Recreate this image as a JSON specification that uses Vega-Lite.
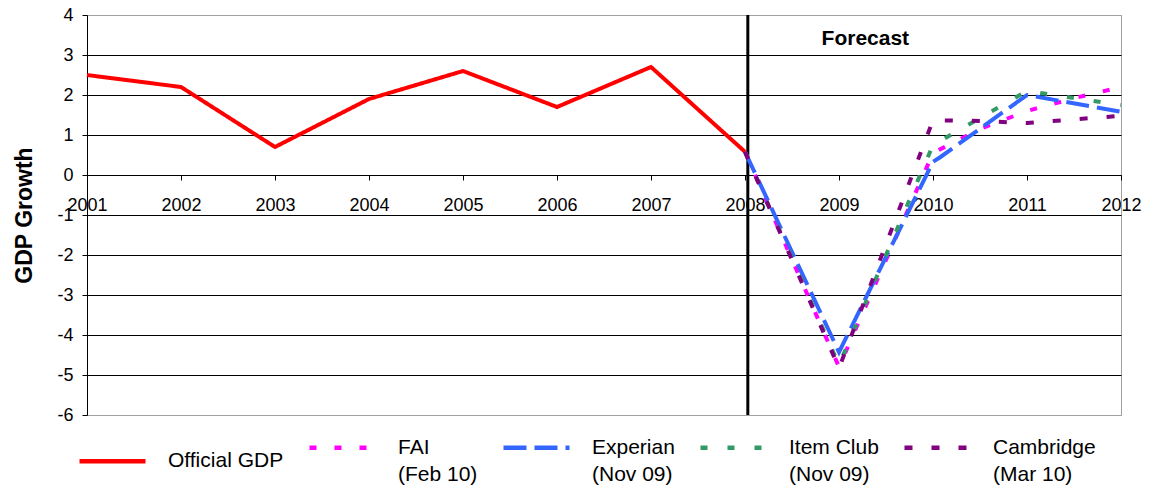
{
  "$schema": "https://vega.github.io/schema/vega-lite/v6.json",
  "width": 1034,
  "height": 400,
  "autosize": "none",
  "padding": {"left": 87, "top": 15, "right": 37, "bottom": 73},
  "background": "white",
  "config": {
    "font": "Liberation Sans",
    "view": {"stroke": "#a0a0a0", "strokeWidth": 1},
    "axis": {
      "labelFont": "Liberation Sans",
      "titleFont": "Liberation Sans",
      "labelColor": "#000000",
      "titleColor": "#000000",
      "domainColor": "#000000",
      "tickColor": "#000000",
      "domainWidth": 1,
      "tickWidth": 1
    }
  },
  "layer": [
    {
      "data": {"values": [{}]},
      "mark": {"type": "rule", "color": "#000000", "strokeWidth": 3},
      "encoding": {"x": {"datum": 2008.03, "type": "quantitative"}}
    },
    {
      "data": {
        "values": [
          {"series": "Official GDP", "year": 2001, "value": 2.5},
          {"series": "Official GDP", "year": 2002, "value": 2.2},
          {"series": "Official GDP", "year": 2003, "value": 0.7},
          {"series": "Official GDP", "year": 2004, "value": 1.9},
          {"series": "Official GDP", "year": 2005, "value": 2.6},
          {"series": "Official GDP", "year": 2006, "value": 1.7},
          {"series": "Official GDP", "year": 2007, "value": 2.7},
          {"series": "Official GDP", "year": 2008, "value": 0.58},
          {"series": "FAI (Feb 10)", "year": 2008, "value": 0.58},
          {"series": "FAI (Feb 10)", "year": 2009, "value": -4.8},
          {"series": "FAI (Feb 10)", "year": 2010, "value": 0.55},
          {"series": "FAI (Feb 10)", "year": 2010.5, "value": 1.15},
          {"series": "FAI (Feb 10)", "year": 2011, "value": 1.6},
          {"series": "FAI (Feb 10)", "year": 2011.5, "value": 1.92},
          {"series": "FAI (Feb 10)", "year": 2012, "value": 2.2},
          {"series": "Experian (Nov 09)", "year": 2008, "value": 0.58},
          {"series": "Experian (Nov 09)", "year": 2009, "value": -4.43},
          {"series": "Experian (Nov 09)", "year": 2010, "value": 0.33},
          {"series": "Experian (Nov 09)", "year": 2010.08, "value": 0.45},
          {"series": "Experian (Nov 09)", "year": 2011, "value": 2.0},
          {"series": "Experian (Nov 09)", "year": 2012, "value": 1.58},
          {"series": "Item Club (Nov 09)", "year": 2008, "value": 0.58},
          {"series": "Item Club (Nov 09)", "year": 2009, "value": -4.75},
          {"series": "Item Club (Nov 09)", "year": 2010, "value": 0.75},
          {"series": "Item Club (Nov 09)", "year": 2011, "value": 2.1},
          {"series": "Item Club (Nov 09)", "year": 2012, "value": 1.75},
          {"series": "Cambridge (Mar 10)", "year": 2008, "value": 0.58},
          {"series": "Cambridge (Mar 10)", "year": 2009, "value": -4.83},
          {"series": "Cambridge (Mar 10)", "year": 2010, "value": 1.37},
          {"series": "Cambridge (Mar 10)", "year": 2010.5, "value": 1.35},
          {"series": "Cambridge (Mar 10)", "year": 2011, "value": 1.3},
          {"series": "Cambridge (Mar 10)", "year": 2012, "value": 1.48}
        ]
      },
      "transform": [{"calculate": "datum.series", "as": "dashKey"}],
      "mark": {"type": "line", "strokeWidth": 4},
      "encoding": {
        "x": {
          "field": "year",
          "type": "quantitative",
          "scale": {"domain": [2001, 2012], "nice": false, "zero": false},
          "axis": {
            "title": null,
            "values": [2001, 2002, 2003, 2004, 2005, 2006, 2007, 2008, 2009, 2010, 2011, 2012],
            "tickCount": 40,
            "format": "d",
            "grid": false,
            "offset": -240,
            "tickSize": 5,
            "labelFontSize": 18,
            "labelPadding": 16,
            "labelOverlap": false,
            "labelBound": false,
            "labelFlush": false
          }
        },
        "y": {
          "field": "value",
          "type": "quantitative",
          "scale": {"domain": [-6, 4], "nice": false, "zero": false},
          "axis": {
            "title": "GDP Growth",
            "titleFontSize": 23,
            "titleFontWeight": "bold",
            "titlePadding": 20,
            "values": [-6, -5, -4, -3, -2, -1, 0, 1, 2, 3, 4],
            "tickCount": 30,
            "labelExpr": "'' + datum.value",
            "tickSize": 5,
            "labelFontSize": 18,
            "labelPadding": 9,
            "labelOverlap": false,
            "labelBound": false,
            "labelFlush": false,
            "grid": true,
            "gridColor": {"condition": {"test": "datum.value === 4 || datum.value === -6", "value": "#a0a0a0"}, "value": "#000000"},
            "gridWidth": 1
          }
        },
        "color": {
          "field": "series",
          "type": "nominal",
          "scale": {
            "domain": ["Official GDP", "FAI (Feb 10)", "Experian (Nov 09)", "Item Club (Nov 09)", "Cambridge (Mar 10)"],
            "range": ["#FF0000", "#FF00FF", "#3366FF", "#339966", "#800080"]
          },
          "legend": {
            "orient": "none",
            "legendX": -10,
            "legendY": 397,
            "direction": "horizontal",
            "title": null,
            "padding": 0,
            "symbolType": "stroke",
            "symbolSize": 4356,
            "symbolStrokeWidth": 4.5,
            "symbolDash": {"expr": "datum.value === 'Official GDP' ? [1, 0] : datum.value === 'FAI (Feb 10)' ? [15, 12] : datum.value === 'Experian (Nov 09)' ? [15, 11] : [5, 3.3]"},
            "labelFont": "Liberation Sans",
            "labelFontSize": 21,
            "labelColor": "#000000",
            "labelOffset": 20,
            "columnPadding": 16,
            "labelLimit": 400,
            "labelExpr": "datum.label === 'FAI (Feb 10)' ? ['FAI', '(Feb 10)'] : datum.label === 'Experian (Nov 09)' ? ['Experian', '(Nov 09)'] : datum.label === 'Item Club (Nov 09)' ? ['Item Club', '(Nov 09)'] : datum.label === 'Cambridge (Mar 10)' ? ['Cambridge', '(Mar 10)'] : datum.label",
            "encode": {
              "labels": {"update": {"lineHeight": {"value": 27}}}
            }
          }
        },
        "strokeDash": {
          "field": "dashKey",
          "type": "nominal",
          "scale": {
            "domain": ["Official GDP", "FAI (Feb 10)", "Experian (Nov 09)", "Item Club (Nov 09)", "Cambridge (Mar 10)"],
            "range": [[1, 0], [7, 18], [23, 8], [7, 20], [8, 19]]
          },
          "legend": null
        }
      }
    },
    {
      "data": {"values": [{}]},
      "mark": {"type": "text", "fontWeight": "bold", "fontSize": 21, "font": "Liberation Sans", "color": "#000000", "align": "center", "baseline": "middle"},
      "encoding": {
        "x": {"datum": 2009.28, "type": "quantitative"},
        "y": {"datum": 3.4, "type": "quantitative"},
        "text": {"value": "Forecast"}
      }
    }
  ]
}
